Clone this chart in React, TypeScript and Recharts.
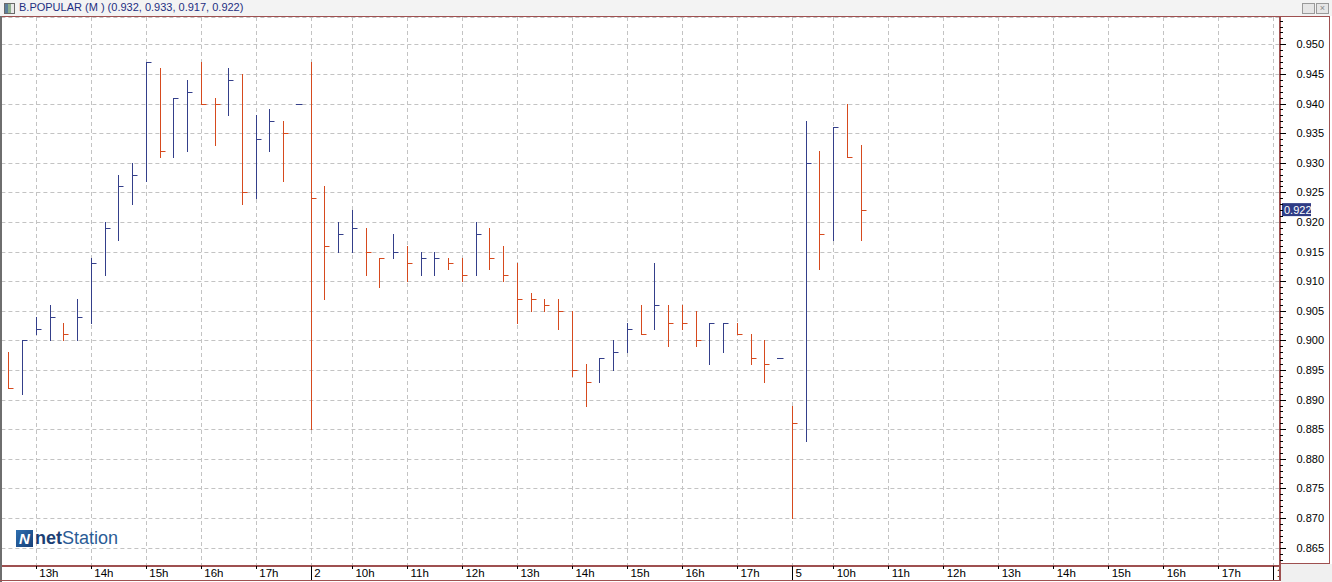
import React from 'react';
import { ComposedChart, Bar, XAxis, YAxis, ReferenceLine, CartesianGrid } from 'recharts';

// 15-minute bars: high / low / close (open is not drawn by this chart style)
const highs = [
  0.898, 0.9, 0.904, 0.906, 0.903, 0.907, 0.914, 0.92, 0.928, 0.93, 0.947, 0.946, 0.941, 0.944, 0.947, 0.941,
  0.946, 0.945, 0.938, 0.939, 0.937, 0.94, 0.947, 0.926, 0.92, 0.922, 0.919, 0.914, 0.918, 0.916, 0.915, 0.915,
  0.914, 0.914, 0.92, 0.919, 0.916, 0.913, 0.908, 0.907, 0.907, 0.905, 0.896, 0.897, 0.9, 0.903, 0.906, 0.913,
  0.906, 0.906, 0.905, 0.903, 0.903, 0.903, 0.901, 0.9, 0.897, 0.889, 0.937, 0.932, 0.936, 0.94, 0.933,
];
const lows = [
  0.892, 0.891, 0.901, 0.9, 0.9, 0.9, 0.903, 0.911, 0.917, 0.923, 0.927, 0.931, 0.931, 0.932, 0.94, 0.933,
  0.938, 0.923, 0.924, 0.932, 0.927, 0.94, 0.885, 0.907, 0.915, 0.915, 0.911, 0.909, 0.914, 0.91, 0.911, 0.911,
  0.912, 0.91, 0.911, 0.912, 0.91, 0.903, 0.905, 0.905, 0.902, 0.894, 0.889, 0.893, 0.895, 0.898, 0.901, 0.902,
  0.899, 0.902, 0.899, 0.896, 0.898, 0.901, 0.896, 0.893, 0.897, 0.87, 0.883, 0.912, 0.917, 0.931, 0.917,
];
const closes = [
  0.892, 0.9, 0.902, 0.904, 0.901, 0.904, 0.913, 0.919, 0.926, 0.928, 0.947, 0.932, 0.941, 0.942, 0.94, 0.94,
  0.944, 0.925, 0.934, 0.937, 0.935, 0.94, 0.924, 0.916, 0.918, 0.919, 0.915, 0.914, 0.915, 0.913, 0.914, 0.914,
  0.913, 0.911, 0.918, 0.914, 0.911, 0.907, 0.907, 0.906, 0.905, 0.895, 0.893, 0.897, 0.898, 0.902, 0.901, 0.906,
  0.903, 0.903, 0.9, 0.903, 0.903, 0.901, 0.897, 0.896, 0.897, 0.886, 0.93, 0.918, 0.936, 0.931, 0.922,
];
const priorClose = 0.898;
const lastPrice = 0.922;

const yMajorTicks = [
  0.865, 0.87, 0.875, 0.88, 0.885, 0.89, 0.895, 0.9, 0.905, 0.91, 0.915, 0.92, 0.925, 0.93, 0.935, 0.94, 0.945, 0.95,
];
const dayLabels = ['', '2', '5', '1'];
const sessionRanges = [
  ['12:30', '17:30'],
  ['09:15', '17:30'],
  ['09:15', '17:30'],
  ['09:15', '09:15'],
];
const closingAuction = '17:35';

const BLUE = '#343f8a';
const ORANGE = '#d64a1e';
const FRAME = '#9e5050';
const GRID = '#c3c3c3';
const FONT = '"Liberation Sans", Arial, sans-serif';
const Y_DOMAIN = [0.86191, 0.95461];

function quarterTimes(from: string, to: string) {
  const toMin = (s: string) => parseInt(s.slice(0, 2), 10) * 60 + parseInt(s.slice(3), 10);
  const out: string[] = [];
  for (let m = toMin(from); m <= toMin(to); m += 15) {
    out.push(`${String(Math.floor(m / 60)).padStart(2, '0')}:${String(m % 60).padStart(2, '0')}`);
  }
  return out;
}

const slots: { slot: string; label: string; isDay: boolean }[] = [];
sessionRanges.forEach(([from, to], d) => {
  const times = quarterTimes(from, to);
  if (d < 3) times.push(closingAuction);
  times.forEach((t, i) => {
    const isDay = i === 0 && dayLabels[d] !== '';
    const label = isDay ? dayLabels[d] : t.endsWith(':00') ? `${parseInt(t, 10)}h` : '';
    slots.push({ slot: `${d}-${t}`, label, isDay });
  });
});

const labelBySlot: Record<string, { label: string; isDay: boolean }> = {};
slots.forEach((s) => (labelBySlot[s.slot] = s));
const tickSlots = slots.filter((s) => s.label !== '').map((s) => s.slot);

let prev = priorClose;
let up = false;
const chartData = slots.map((s, i) => {
  if (i >= highs.length) return { slot: s.slot };
  if (closes[i] > prev) up = true;
  else if (closes[i] < prev) up = false;
  prev = closes[i];
  return { slot: s.slot, hl: [lows[i], highs[i]], close: closes[i], up };
});

const yMinorTicks: number[] = [];
for (let i = 862; i <= 954; i++) yMinorTicks.push(i / 1000);

// snap to the pixel grid so bars and grid lines share the same column
const crisp = (v: number) => Math.round(v) + 0.5;

const OhlcShape = (props: any) => {
  const { x, y, width, height, payload } = props;
  if (!payload || !payload.hl) return null;
  const [low, high] = payload.hl;
  const top = Math.min(y, y + height);
  const bottom = Math.max(y, y + height);
  const cx = crisp(x + width / 2);
  const cy = high === low ? top : top + ((high - payload.close) / (high - low)) * (bottom - top);
  const ty = crisp(cy);
  const color = payload.up ? BLUE : ORANGE;
  return (
    <g>
      {bottom > top && <line x1={cx} x2={cx} y1={Math.round(top)} y2={Math.round(bottom) + 1} stroke={color} strokeWidth={1} />}
      <line x1={cx - (bottom > top ? 0.5 : 1.5)} x2={cx + 5} y1={ty} y2={ty} stroke={color} strokeWidth={1} />
    </g>
  );
};

const GridV = (props: any) => {
  const x = crisp(props.x1);
  return <line x1={x} x2={x} y1={props.y1} y2={props.y2} stroke={GRID} strokeDasharray="4 3" strokeWidth={1} />;
};

const GridH = (props: any) => {
  const y = crisp(props.y1);
  return <line x1={props.x1} x2={props.x2} y1={y} y2={y} stroke={GRID} strokeDasharray="4 3" strokeWidth={1} />;
};

const XTick = (props: any) => {
  const { x, y, payload } = props;
  const info = labelBySlot[payload.value];
  if (!info) return null;
  const tx = crisp(x);
  return (
    <g>
      <line x1={tx} x2={tx} y1={y} y2={info.isDay ? y + 14 : y + 3} stroke="#000" strokeWidth={1} />
      <text x={x + 3.5} y={y + 11} fontSize={11.5} fontFamily={FONT} fill="#000">
        {info.label}
      </text>
    </g>
  );
};

const YTick = (props: any) => {
  const { x, y, payload } = props;
  const v = payload.value as number;
  const major = Math.round(v * 1000) % 5 === 0;
  const ty = crisp(y);
  return (
    <g>
      <line x1={x} x2={x + (major ? 6 : 3)} y1={ty} y2={ty} stroke="#000" strokeWidth={1} />
      {major && (
        <text x={x + 44} y={y + 4} textAnchor="end" fontSize={11} fontFamily={FONT} fill="#000">
          {v.toFixed(3)}
        </text>
      )}
    </g>
  );
};

const PriceLabel = (props: any) => {
  const vb = props.viewBox || {};
  const bx = vb.x + vb.width + 2;
  const by = vb.y;
  return (
    <g>
      <rect x={bx} y={by - 7} width={29} height={13} fill="#2f3c85" />
      <text x={bx + 2} y={by + 4} fontSize={11} fontFamily={FONT} fill="#fff">
        {lastPrice.toFixed(3)}
      </text>
    </g>
  );
};

const abs = (s: React.CSSProperties): React.CSSProperties => ({ position: 'absolute', ...s });

export default function App() {
  return (
    <div style={{ position: 'absolute', left: 0, top: 0, width: 1332, height: 582, background: '#fff', overflow: 'hidden', fontFamily: FONT }}>
      <div style={abs({ left: 0, top: 0, width: 1332, height: 16, background: '#f3f3f3' })} />
      <div style={abs({ left: 4, top: 3, width: 9, height: 9, border: '1px solid #6a6a6a', background: 'linear-gradient(90deg,#5d7f9c 0 35%,#8fb08f 35% 65%,#e8e8e8 65%)' })} />
      <div style={abs({ left: 19, top: 1, fontSize: 11, color: '#1e2f82', whiteSpace: 'nowrap' })}>
        B.POPULAR (M ) (0.932, 0.933, 0.917, 0.922)
      </div>
      <div style={abs({ left: 1302, top: 3, width: 11, height: 9, border: '1px solid #9a9a9a', background: '#e6e6e6' })} />
      <div style={abs({ left: 1316, top: 3, width: 11, height: 9, border: '1px solid #9a9a9a', background: '#e6e6e6', fontSize: 9, lineHeight: '9px', textAlign: 'center', color: '#888' })}>×</div>

      <div style={abs({ left: 0, top: 16, width: 1332, height: 566 })}>
        {/* a wide category gap keeps the bar narrower than 1px, so recharts does not truncate
            its size and the bar stays centred on the band like the grid lines and ticks */}
        <ComposedChart
          width={1332}
          height={566}
          data={chartData}
          margin={{ top: 1, right: 0, bottom: 2, left: 1.4 }}
          barCategoryGap="48%"
        >
          <CartesianGrid vertical={GridV} horizontal={GridH} />
          <XAxis
            dataKey="slot"
            type="category"
            ticks={tickSlots}
            interval={0}
            height={14}
            tickSize={0}
            tickMargin={0}
            tickLine={false}
            axisLine={{ stroke: FRAME, strokeWidth: 2 }}
            tick={<XTick />}
          />
          {/* hidden axis carries the 0.005 grid; the visible one draws every 0.001 tick */}
          <YAxis hide type="number" domain={Y_DOMAIN} allowDataOverflow ticks={yMajorTicks} interval={0} />
          <YAxis
            yAxisId="scale"
            orientation="right"
            type="number"
            domain={Y_DOMAIN}
            allowDataOverflow
            ticks={yMinorTicks}
            interval={0}
            width={52}
            tickSize={0}
            tickMargin={0}
            tickLine={false}
            axisLine={{ stroke: FRAME, strokeWidth: 2 }}
            tick={<YTick />}
          />
          <Bar dataKey="hl" shape={<OhlcShape />} isAnimationActive={false} />
          <ReferenceLine y={lastPrice} stroke="none" strokeOpacity={0} label={PriceLabel} />
        </ComposedChart>
      </div>

      <div style={abs({ left: 2, top: 16, width: 1328, height: 1, background: FRAME })} />
      <div style={abs({ left: 0, top: 16, width: 2, height: 566, background: '#6e6e6e' })} />
      <div style={abs({ left: 1329, top: 16, width: 1, height: 548, background: FRAME })} />
      <div style={abs({ left: 1281, top: 563, width: 49, height: 1, background: FRAME })} />
      <div style={abs({ left: 1281, top: 564, width: 51, height: 18, background: '#f0f0f0' })} />
      <div style={abs({ left: 0, top: 580, width: 1281, height: 1, background: FRAME })} />
      <div style={abs({ left: 1279, top: 564, width: 2, height: 17, background: FRAME })} />

      <div style={abs({ left: 16, top: 529, display: 'flex', alignItems: 'center' })}>
        <div style={{ width: 17, height: 17, background: 'linear-gradient(135deg,#2d6fb0,#173f78)', color: '#fff', fontSize: 15, fontWeight: 700, fontStyle: 'italic', lineHeight: '17px', textAlign: 'center' }}>N</div>
        <div style={{ marginLeft: 2, fontSize: 18, lineHeight: '18px', whiteSpace: 'nowrap' }}>
          <span style={{ color: '#1c3f74', fontWeight: 700 }}>net</span>
          <span style={{ color: '#2a5c96' }}>Station</span>
        </div>
      </div>
    </div>
  );
}
